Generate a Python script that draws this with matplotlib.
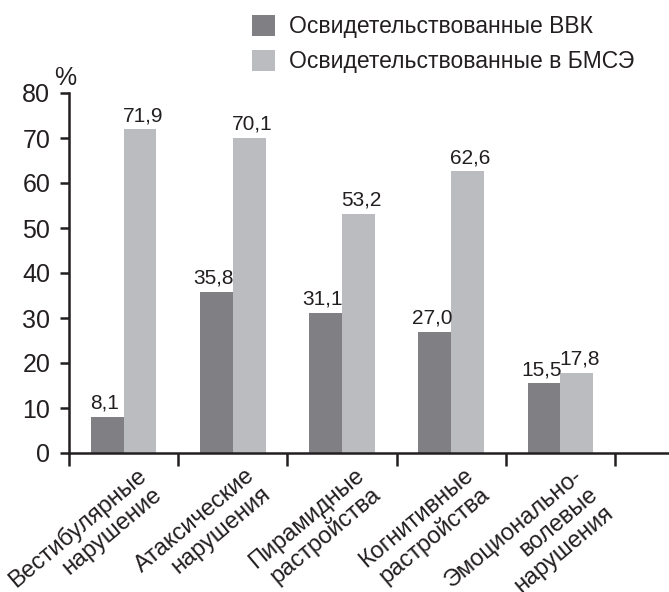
import matplotlib
matplotlib.use("Agg")
import matplotlib.pyplot as plt
import matplotlib.transforms as mtransforms
import numpy as np

categories = [
    "Вестибулярные\nнарушение",
    "Атаксические\nнарушения",
    "Пирамидные\nрастройства",
    "Когнитивные\nрастройства",
    "Эмоционально-\nволевые\nнарушения",
]
vvk = [8.1, 35.8, 31.1, 27.0, 15.5]
bmse = [71.9, 70.1, 53.2, 62.6, 17.8]
series_names = ["Освидетельствованные ВВК", "Освидетельствованные в БМСЭ"]
yticks = [0, 10, 20, 30, 40, 50, 60, 70, 80]

plt.rcParams["font.family"] = ["Liberation Sans", "DejaVu Sans"]

dark = "#808084"
light = "#bbbcc0"
ink = "#231f20"

fig = plt.figure(figsize=(6.69, 5.92), dpi=100)
ax = fig.add_axes([69 / 669, 139 / 592, 599 / 669, 360 / 592])

x = np.arange(len(categories)) + 0.5
w = 0.3
b1 = ax.bar(x - w / 2, vvk, w, color=dark, label=series_names[0], zorder=2)
b2 = ax.bar(x + w / 2, bmse, w, color=light, label=series_names[1], zorder=2)

fmt = lambda v: f"{v:.1f}".replace(".", ",")
for bars, vals, dx in ((b1, vvk, -2), (b2, bmse, 2)):
    for r, v in zip(bars, vals):
        ax.annotate(fmt(v), (r.get_x() + r.get_width() / 2, v),
                    xytext=(dx, 3), textcoords="offset points",
                    ha="center", va="bottom", fontsize=15, color=ink)

ax.set_xlim(0, 5.485)
ax.set_ylim(0, 80)
ax.set_yticks(yticks)
ax.set_yticklabels([str(t) for t in yticks])

for s in ("top", "right"):
    ax.spines[s].set_visible(False)
for s in ("left", "bottom"):
    ax.spines[s].set_linewidth(1.8)
    ax.spines[s].set_color(ink)
    ax.spines[s].set_capstyle("projecting")

ax.tick_params(axis="y", length=6.5, width=1.8, color=ink, labelsize=18,
               labelcolor=ink, pad=7)

# group boundaries as major ticks, category names on minor ticks
ax.set_xticks(np.arange(len(categories) + 1))
ax.set_xticklabels([])
ax.set_xticks(x, minor=True)
ax.set_xticklabels(categories, minor=True, rotation=40, ha="right", va="top",
                   rotation_mode="anchor", multialignment="right",
                   fontsize=17, color=ink, linespacing=1.15)
ax.tick_params(axis="x", which="major", direction="out", length=9, width=1.8,
               color=ink)
ax.tick_params(axis="x", which="minor", length=0, pad=8)
shift = mtransforms.ScaledTranslation(12 / 100, 0, fig.dpi_scale_trans)
for lab in ax.get_xticklabels(minor=True):
    lab.set_transform(lab.get_transform() + shift)

ax.annotate("%", (0, 80), xytext=(-3, 2), textcoords="offset points",
            ha="center", va="bottom", fontsize=18, color=ink,
            annotation_clip=False)

fig.legend(handles=[b1, b2], labels=series_names, loc="upper left",
           bbox_to_anchor=(252 / 669, 1 - 15 / 592), frameon=False,
           fontsize=16.5, handlelength=1.0, handleheight=1.0,
           handletextpad=0.6, labelspacing=0.53, borderpad=0,
           borderaxespad=0, labelcolor=ink)

fig.savefig("out.png", dpi=100)
